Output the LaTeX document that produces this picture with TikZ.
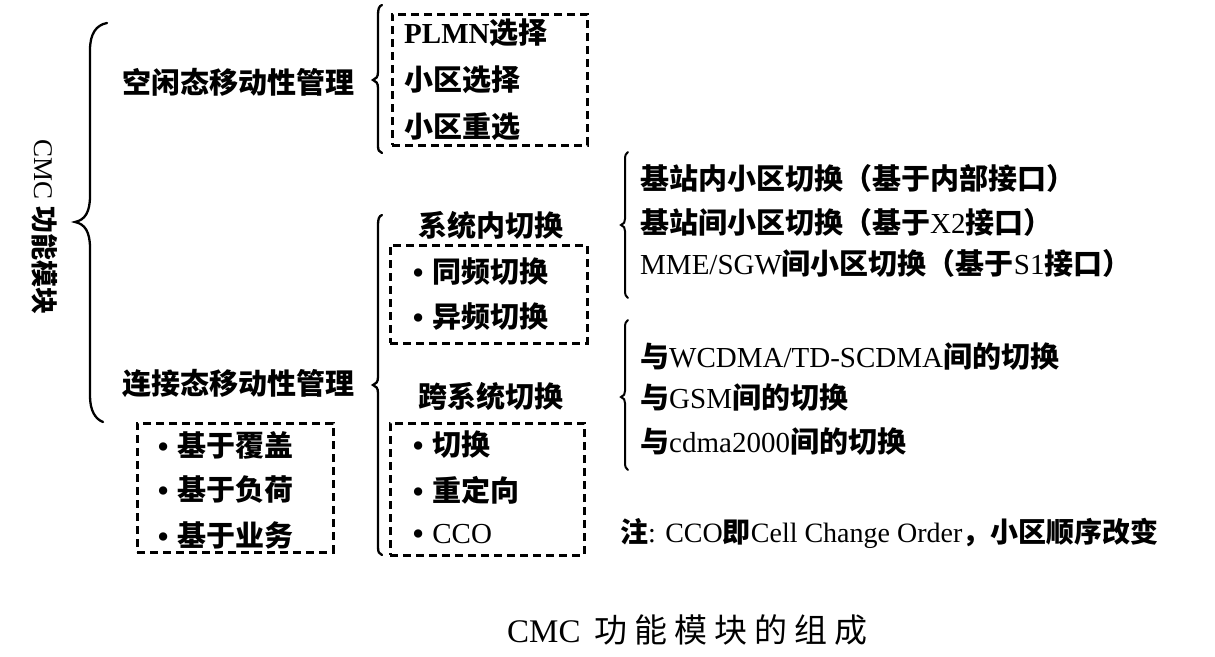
\documentclass[tikz,border=0pt]{standalone}
\usepackage{fontspec}
\setmainfont{Liberation Serif}
\newfontfamily\cjk{Noto Sans CJK SC}
\newcommand\zh[1]{{\cjk\bfseries #1}}
\newcommand\zr[1]{{\cjk #1}}
\newcommand\bul{\raisebox{-2pt}{\scalebox{1.2}{\textbullet}}\hspace{8pt}}
\newcommand\cs{\hspace{7pt}}
\begin{document}
\begin{tikzpicture}[x=1pt,y=-1pt,
  lbl/.style={anchor=west,inner sep=0pt,font=\fontsize{29}{31}\selectfont},
  dbox/.style={draw,dash pattern=on 8pt off 5pt,line width=3pt,inner sep=0pt},
  brc/.style={draw,line width=2.3pt,line cap=round}]
\useasboundingbox (0,0) rectangle (1215,656);

% vertical title
\node[inner sep=0pt,rotate=-90,font=\fontsize{27}{29}\selectfont] (title) at (45,227) {CMC \zh{功能模块}};

% big brace
\draw[brc] (107,23) .. controls (96,25) and (90,34) .. (90,50) -- (90,196)
  .. controls (90,212) and (85,220) .. (75,222)
  .. controls (85,224) and (90,232) .. (90,248) -- (90,396)
  .. controls (90,410) and (95,419) .. (103,422);

% level 1
\node[lbl] (idle) at (122,82) {\zh{空闲态移动性管理}};
\node[lbl] (conn) at (122,383) {\zh{连接态移动性管理}};

% brace idle
\draw[brc] (382,5) .. controls (379,6) and (378,9) .. (378,15) -- (378,72)
  .. controls (378,77) and (376,79) .. (373,80)
  .. controls (376,81) and (378,83) .. (378,88) -- (378,146)
  .. controls (378,150) and (379,152) .. (382,153);

% brace conn
\draw[brc] (382,215) .. controls (379,216) and (378,219) .. (378,225) -- (378,377)
  .. controls (378,382) and (376,384) .. (373,385)
  .. controls (376,386) and (378,388) .. (378,393) -- (378,547)
  .. controls (378,552) and (379,554) .. (382,555);

% box 1
\node[dbox,minimum width=195pt,minimum height=131pt] (b1) at (489.5,79.5) {};
\node[lbl] (plmn) at (404,33) {\textbf{PLMN}\zh{选择}};
\node[lbl] (cs) at (404,80) {\zh{小区选择}};
\node[lbl] (cr) at (404,127) {\zh{小区重选}};

% intra system
\node[lbl] (intra) at (418,225) {\zh{系统内切换}};
\node[dbox,minimum width=197pt,minimum height=98pt] (b2) at (488.5,294) {};
\node[lbl] (sf) at (412,272) {\bul\zh{同频切换}};
\node[lbl] (df) at (412,317) {\bul\zh{异频切换}};

% inter system
\node[lbl] (inter) at (418,396) {\zh{跨系统切换}};
\node[dbox,minimum width=194pt,minimum height=132pt] (b3) at (487,489) {};
\node[lbl] (ho) at (412,445) {\bul\zh{切换}};
\node[lbl] (rd) at (412,490) {\bul\zh{重定向}};
\node[lbl] (cco) at (412,535) {\bul CCO};

% box 4
\node[dbox,minimum width=196pt,minimum height=129pt] (b4) at (235,487.5) {};
\node[lbl] (cov) at (157,445) {\bul\zh{基于覆盖}};
\node[lbl] (load) at (157,490) {\bul\zh{基于负荷}};
\node[lbl] (svc) at (157,535) {\bul\zh{基于业务}};

% right brace 1
\draw[brc,line width=2pt] (628,152) .. controls (626,153) and (625,155) .. (625,160) -- (625,219)
  .. controls (625,222) and (624,224) .. (621,225)
  .. controls (624,226) and (625,228) .. (625,231) -- (625,290)
  .. controls (625,295) and (626,297) .. (628,298);
\node[lbl] (r1) at (640,178) {\zh{基站内小区切换（基于内部接口）}};
\node[lbl] (r2) at (640,222) {\zh{基站间小区切换（基于}X2\zh{接口）}};
\node[lbl] (r3) at (640,263) {MME/SGW\zh{间小区切换（基于}S1\zh{接口）}};

% right brace 2
\draw[brc,line width=2pt] (628,320) .. controls (626,321) and (625,323) .. (625,328) -- (625,391)
  .. controls (625,394) and (624,396) .. (621,397)
  .. controls (624,398) and (625,400) .. (625,403) -- (625,462)
  .. controls (625,467) and (626,469) .. (628,470);
\node[lbl] (r4) at (640,357) {\zh{与}WCDMA/TD-SCDMA\zh{间的切换}};
\node[lbl] (r5) at (640,398) {\zh{与}GSM\zh{间的切换}};
\node[lbl] (r6) at (640,442) {\zh{与}cdma2000\zh{间的切换}};

% note
\node[lbl,font=\fontsize{28}{30}\selectfont] (note) at (620,533) {\zh{注}: CCO\zh{即}Cell Change Order\zh{，}\zh{小区顺序改变}};

% caption
\node[lbl,font=\fontsize{33}{35}\selectfont] (cap) at (507,630) {CMC\hspace{14pt}\zr{功\cs 能\cs 模\cs 块\cs 的\cs 组\cs 成}};
\end{tikzpicture}
\end{document}
